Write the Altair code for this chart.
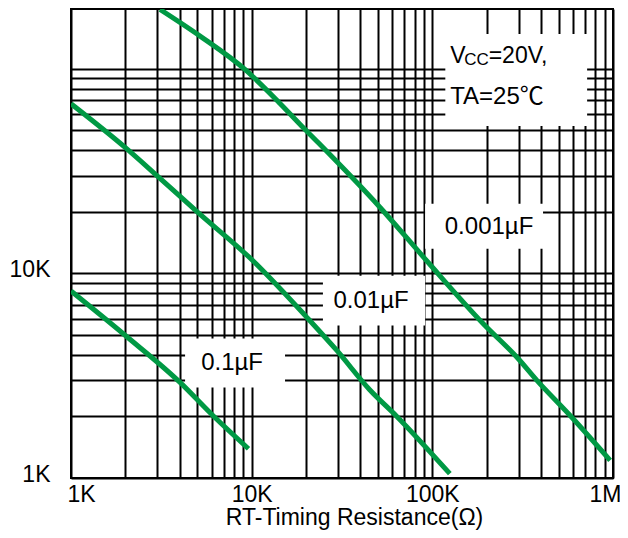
import altair as alt
import pandas as pd

# ---- curve data (RT in ohms, frequency in Hz) ----
caps = ["0.1µF", "0.01µF", "0.001µF"]
r_c1 = [1000, 2000, 4000, 6100, 9600]
f_c1 = [8200, 4970, 2940, 2020, 1390]
r_c2 = [1000, 2000, 3000, 5000, 10200, 20200, 29600, 45000, 63600, 125000]
f_c2 = [67500, 41200, 30000, 20000, 11500, 6100, 4200, 2700, 2000, 1050]
r_c3 = [3110, 5180, 9180, 14400, 18500, 23400, 51400, 93300, 192000, 294000, 379000, 579000, 964000]
f_c3 = [195000, 144500, 99300, 67500, 53600, 43500, 21000, 11500, 5660, 3890, 3000, 2020, 1220]

# ---- axes ----
x_domain = [1000, 1000000]
y_domain = [1000, 196000]
x_grid = [m * 10 ** e for e in (3, 4, 5) for m in range(1, 10)] + [1000000]
y_grid = [m * 10 ** e for e in (3, 4) for m in range(1, 10)] + [100000]

# ---- annotations ----
box_x1 = [4280, 24800, 91200, 118000]
box_x2 = [15300, 91200, 410000, 719000]
box_y1 = [2770, 5560, 13200, 52500]
box_y2 = [4800, 9750, 21900, 148000]

lab_text = ["0.1µF", "0.01µF", "0.001µF"]
lab_x = [7790, 45800, 206000]
lab_y = [3630, 7360, 16900]

cond_x = 125500
cond_y1 = 106700
cond_y2 = 67300

FONT = "Liberation Sans, Arial, Noto Sans CJK SC"
GREEN = "#009944"

rows = []
for cap, rs, fs in zip(caps, [r_c1, r_c2, r_c3], [f_c1, f_c2, f_c3]):
    for i, (r, f) in enumerate(zip(rs, fs)):
        rows.append({"cap": cap, "R": r, "F": f, "i": i})
curves = pd.DataFrame(rows)

xs = alt.Scale(type="log", domain=x_domain, nice=False)
ys = alt.Scale(type="log", domain=y_domain, nice=False)

x_label_expr = ("datum.value==1000?'1K':datum.value==10000?'10K':"
                "datum.value==100000?'100K':datum.value==1000000?'1M':''")
y_label_expr = "datum.value==1000?'1K':datum.value==10000?'10K':''"

x_axis = alt.Axis(
    values=x_grid, labelExpr=x_label_expr, grid=True, gridColor="black",
    gridWidth=2, gridOpacity=1, ticks=False, domain=False,
    labelFont=FONT, labelFontSize=23, labelColor="black", labelPadding=5,
    labelOverlap=False, labelFlush=False,
    labelOffset={"condition": [{"test": "datum.value == 1000", "value": 10},
                               {"test": "datum.value == 1000000", "value": -8}],
                 "value": 0},
    title="RT-Timing Resistance(Ω)", titleFont=FONT, titleFontSize=23,
    titleFontWeight="normal", titleColor="black",
    titleX=283, titleY=46, titleBaseline="alphabetic", titleAnchor="middle",
)
y_axis = alt.Axis(
    values=y_grid, labelExpr=y_label_expr, grid=True, gridColor="black",
    gridWidth=2, gridOpacity=1, ticks=False, domain=False,
    labelFont=FONT, labelFontSize=23, labelColor="black", labelPadding=21,
    labelOverlap=False, labelFlush=False, labelBaseline="middle", labelOffset=-4,
    title=None,
)


def X(field):
    return alt.X(field, type="quantitative", scale=xs, axis=x_axis)


def Y(field):
    return alt.Y(field, type="quantitative", scale=ys, axis=y_axis)


lines = alt.Chart(curves).mark_line(
    color=GREEN, strokeWidth=5, clip=True, interpolate="monotone"
).encode(x=X("R"), y=Y("F"), detail="cap:N", order="i:Q")

boxes_df = pd.DataFrame({"x1": box_x1, "x2": box_x2, "y1": box_y1, "y2": box_y2})
boxes = alt.Chart(boxes_df).mark_rect(color="white").encode(
    x=X("x1"), x2="x2:Q", y=Y("y1"), y2="y2:Q",
)

labs_df = pd.DataFrame({"t": lab_text, "x": lab_x, "y": lab_y})
labs = alt.Chart(labs_df).mark_text(
    font=FONT, fontSize=24, color="black", align="center", baseline="middle"
).encode(x=X("x"), y=Y("y"), text="t:N")

cond_df = pd.DataFrame({"x": [cond_x], "y1": [cond_y1], "y2": [cond_y2]})
base_c = alt.Chart(cond_df)
v_txt = base_c.mark_text(font=FONT, fontSize=23, color="black", align="left",
                         baseline="alphabetic", text="V").encode(x=X("x"), y=Y("y1"))
cc_txt = base_c.mark_text(font=FONT, fontSize=17, color="black", align="left",
                          baseline="alphabetic", text="CC", dx=14, dy=1.5).encode(x=X("x"), y=Y("y1"))
eq_txt = base_c.mark_text(font=FONT, fontSize=23, color="black", align="left",
                          baseline="alphabetic", text="=20V,", dx=38.5).encode(x=X("x"), y=Y("y1"))
ta_txt = base_c.mark_text(font=FONT, fontSize=24, color="black", align="left",
                          baseline="alphabetic", text="TA=25℃").encode(x=X("x"), y=Y("y2"))

chart = alt.layer(boxes, lines, labs, v_txt, cc_txt, eq_txt, ta_txt).properties(
    width=542, height=469,
    autosize=alt.AutoSizeParams(type="none"),
    padding={"left": 63, "top": 1, "right": 7, "bottom": 52},
    background="white",
).configure_view(stroke="black", strokeWidth=2)

chart.save("out.html", embed_options={"renderer": "svg", "actions": False})
